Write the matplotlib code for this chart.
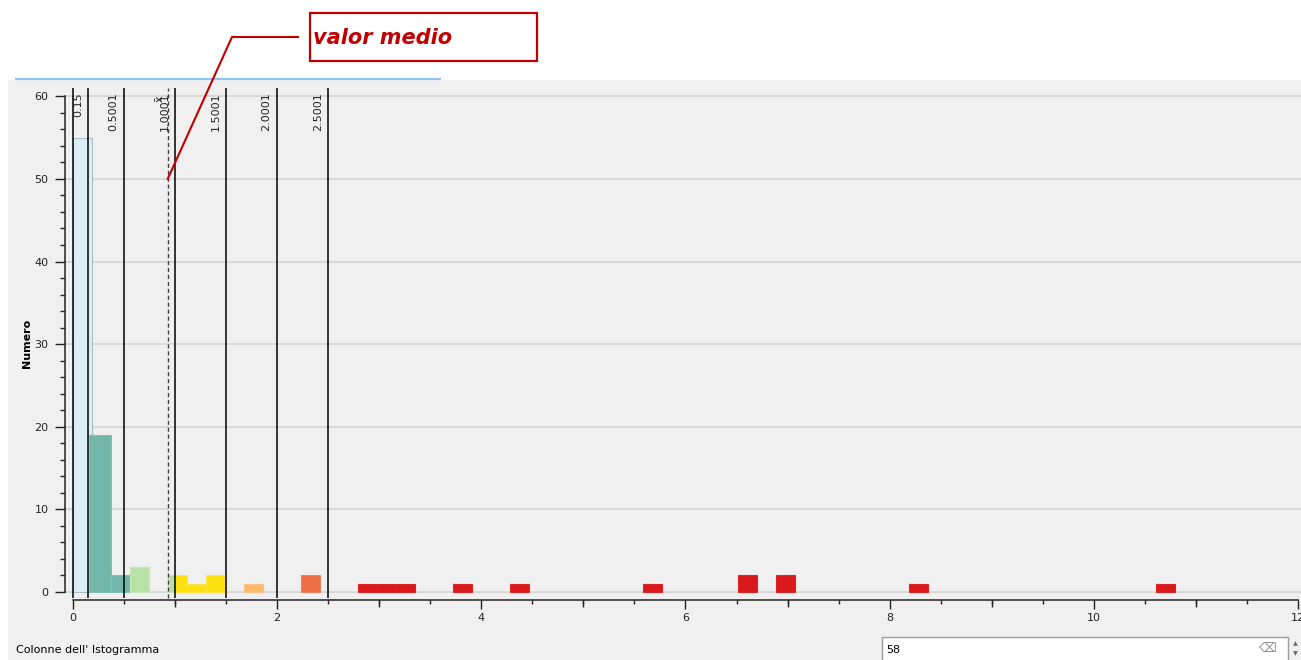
import matplotlib
matplotlib.use("Agg")
import matplotlib.pyplot as plt
from matplotlib.ticker import MultipleLocator, NullFormatter
from matplotlib.patches import Rectangle
from matplotlib.lines import Line2D

# ---------------- data ----------------
n_bins = 58
value_max = 10.8
bin_w = value_max / n_bins

class_breaks = [0.0, 0.15, 0.5001, 1.0001, 1.5001, 2.0001, 2.5001]
break_labels = ["0.15", "0.5001", "1.0001", "1.5001", "2.0001", "2.5001"]
class_colors = ["#dbedf6", "#73b7ab", "#b8e2a5", "#fde10f", "#fdb86c", "#ee6e45", "#d9191c"]
class_edges = ["#adbdc7", "#84c1b6", "#c4e8b4", "#fde446", "#fdc087", "#f08160", "#dc2629"]

# bars: start value, end value, count, class index
bar_start = [0.0, 0.16, 2 * bin_w, 3 * bin_w, 5 * bin_w, 1.0001, 6 * bin_w, 7 * bin_w,
             9 * bin_w, 12 * bin_w, 15 * bin_w, 16 * bin_w, 17 * bin_w, 20 * bin_w,
             23 * bin_w, 30 * bin_w, 35 * bin_w, 37 * bin_w, 44 * bin_w, 57 * bin_w]
bar_end = [bin_w, 2 * bin_w, 3 * bin_w, 4 * bin_w, 1.0001, 6 * bin_w, 7 * bin_w, 8 * bin_w,
           10 * bin_w, 13 * bin_w, 16 * bin_w, 17 * bin_w, 18 * bin_w, 21 * bin_w,
           24 * bin_w, 31 * bin_w, 36 * bin_w, 38 * bin_w, 45 * bin_w, 58 * bin_w]
bar_count = [55, 19, 2, 3, 2, 2, 1, 2, 1, 2, 1, 1, 1, 1, 1, 1, 2, 2, 1, 1]
bar_class = [0, 1, 1, 2, 2, 3, 3, 3, 4, 5, 6, 6, 6, 6, 6, 6, 6, 6, 6, 6]

mean_value = 0.928
y_ticks = [0, 10, 20, 30, 40, 50, 60]
x_ticks = [0, 2, 4, 6, 8, 10, 12]

# ---------------- figure ----------------
W, H = 1301, 660
fig = plt.figure(figsize=(W / 100, H / 100), dpi=100)
fig.patch.set_facecolor("white")


def px(x, y):
    return (x / W, 1 - y / H)


# panel background
fig.add_artist(Rectangle(px(8, 660), (W - 8) / W, 580 / H, transform=fig.transFigure,
                         facecolor="#f0f0f0", edgecolor="none", zorder=0))
# blue widget edge line
fig.add_artist(Line2D([16 / W, 440 / W], [1 - 79 / H, 1 - 79 / H], transform=fig.transFigure,
                      color="#93c3f0", lw=1.6, zorder=1))

ax_left, ax_top, ax_bottom = 65, 88, 600
ax = fig.add_axes([ax_left / W, 1 - ax_bottom / H, (W - ax_left) / W, (ax_bottom - ax_top) / H])
ax.set_facecolor("none")

ax.set_xlim(-0.0784, 12.03)
ax.set_ylim(-0.968, 61.0)

# grid
ax.set_axisbelow(True)
ax.yaxis.grid(True, color="#d4d4d4", lw=1.2)
ax.xaxis.grid(False)

# bars
for s, e, c, k in zip(bar_start, bar_end, bar_count, bar_class):
    ax.bar(s, c, width=e - s, align="edge", color=class_colors[k],
           edgecolor=class_edges[k], linewidth=0.8, zorder=2)

# class break lines and labels
line_bottom = -0.73
ytop = ax.get_ylim()[1]
ax.vlines(class_breaks, line_bottom, ytop, colors="black", lw=1.1, zorder=3)
for xv, lab in zip(class_breaks[1:], break_labels):
    ax.annotate(lab, xy=(xv, ytop), xytext=(-4, -3), textcoords="offset points",
                rotation=90, ha="right", va="top", fontsize=8, color="#222222", zorder=4)

# mean line
ax.vlines([mean_value], line_bottom, ytop, colors="#444444", lw=1.0,
          linestyles=(0, (3, 2)), zorder=3)
ax.annotate("x̄", xy=(mean_value, ytop), xytext=(-2, -5), textcoords="offset points",
            rotation=90, ha="right", va="top", fontsize=8, color="#222222", zorder=4)

# spines
for s in ["top", "right"]:
    ax.spines[s].set_visible(False)
ax.spines["left"].set_bounds(0, 60)
ax.spines["bottom"].set_bounds(0, 12)
ax.spines["left"].set_linewidth(1.1)
ax.spines["bottom"].set_linewidth(1.1)
ax.spines["left"].set_color("#222222")
ax.spines["bottom"].set_color("#222222")

# ticks
ax.set_yticks(y_ticks)
ax.yaxis.set_minor_locator(MultipleLocator(2))
ax.set_xticks(x_ticks)
ax.xaxis.set_minor_locator(MultipleLocator(0.5))
ax.tick_params(axis="y", which="major", length=7, width=1, pad=5, labelsize=8,
               colors="#222222")
ax.tick_params(axis="y", which="minor", length=3.6, width=1, colors="#222222")
ax.tick_params(axis="x", which="major", length=6.5, width=1, pad=3, labelsize=8,
               colors="#222222")
ax.tick_params(axis="x", which="minor", length=3, width=1, colors="#222222")

sec = ax.secondary_xaxis("bottom")
sec.set_xticks([1, 3, 5, 7, 9, 11])
sec.xaxis.set_major_formatter(NullFormatter())
sec.tick_params(axis="x", length=5, width=1, colors="#222222")
sec.spines["bottom"].set_visible(False)

# y label
fig.text(27 / W, 1 - 343 / H, "Numero", rotation=90, ha="center", va="center",
         fontsize=8, fontweight="bold", color="black")

# bottom widgets
fig.text(16 / W, 1 - 650 / H, "Colonne dell' Istogramma", ha="left", va="center",
         fontsize=8, color="black")
fig.add_artist(Rectangle(px(882, 662), (1288 - 882) / W, 25 / H, transform=fig.transFigure,
                         facecolor="white", edgecolor="#9a9a9a", lw=1, zorder=2))
fig.text(886 / W, 1 - 650 / H, "58", ha="left", va="center", fontsize=8, color="black")
fig.text(1268 / W, 1 - 649 / H, "⌫", ha="center", va="center", fontsize=9, color="#8a8a8a",
         family=["DejaVu Sans"])
fig.text(1295 / W, 1 - 644 / H, "▲", ha="center", va="center", fontsize=4.5, color="#666666")
fig.text(1295 / W, 1 - 654 / H, "▼", ha="center", va="center", fontsize=4.5, color="#666666")

# annotation box "valor medio"
fig.add_artist(Rectangle(px(310, 61), (537 - 310) / W, (61 - 13) / H, transform=fig.transFigure,
                         facecolor="white", edgecolor="#c00000", lw=1.6, zorder=5))
fig.text(313 / W, 1 - 38 / H, "valor medio", ha="left", va="center", fontsize=15,
         fontweight="bold", fontstyle="italic", color="#c00000", zorder=6)

end_fig = fig.transFigure.inverted().transform(ax.transData.transform((mean_value, 50)))
fig.add_artist(Line2D([298 / W, 232 / W, end_fig[0]], [1 - 37 / H, 1 - 37 / H, end_fig[1]],
                      transform=fig.transFigure, color="#c00000", lw=1.5, zorder=6))

fig.savefig("out.png", dpi=100, facecolor=fig.get_facecolor())
